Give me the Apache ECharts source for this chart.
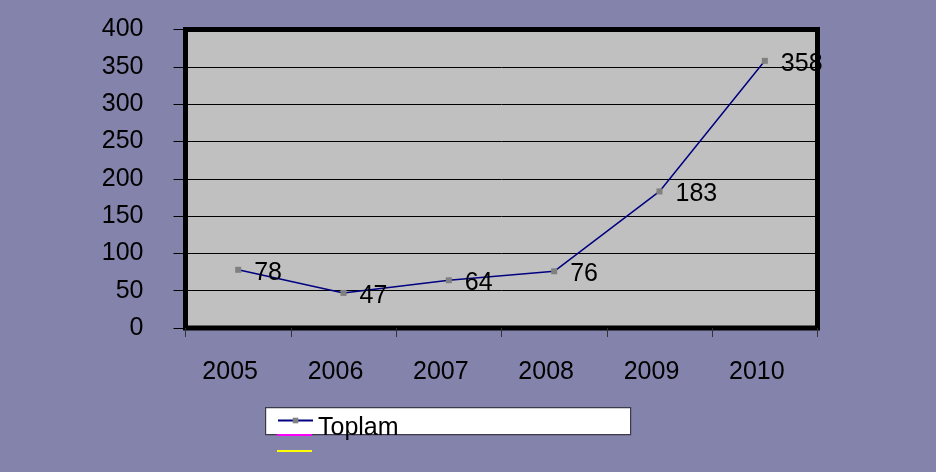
<!DOCTYPE html>
<html><head><meta charset="utf-8">
<script src="https://cdn.jsdelivr.net/npm/echarts@6/dist/echarts.min.js"></script>
<style>html,body{margin:0;padding:0;background:#8483ab;}#c{width:936px;height:472px;}</style>
</head><body><div id="c"></div>
<script>
const categories = ['2005','2006','2007','2008','2009','2010'];
const toplam = [78, 47, 64, 76, 183, 358];
const yTicks = {min: 0, max: 400, interval: 50};
const seriesNames = ['Toplam', ' ', '  '];

const chart = echarts.init(document.getElementById('c'));
const font = 'Liberation Sans, Arial, sans-serif';
chart.setOption({
  backgroundColor: '#8483ab',
  animation: false,
  textStyle: {fontFamily: font},
  grid: {left: 185.5, right: 118.5, top: 29.5, bottom: 144, show: true,
         backgroundColor: '#c0c0c0', borderColor: '#000', borderWidth: 5},
  graphic: [{type: 'rect', left: 265, top: 407, z: -1,
             shape: {width: 365, height: 27},
             style: {fill: '#fff', stroke: '#3a3a4a', lineWidth: 1.2}}],
  legend: [
    {data: [seriesNames[0]], left: 277, top: 416, itemWidth: 35, itemHeight: 7, padding: 0,
     formatter: '{t|{name}}',
     textStyle: {fontFamily: font, rich: {t: {fontSize: 25, color: '#000', fontFamily: font,
                 padding: [16, 0, 0, 0]}}}},
    {data: [{name: seriesNames[1], icon: 'rect'}, {name: seriesNames[2], icon: 'rect'}],
     orient: 'vertical', left: 277, top: 428,
     itemWidth: 35, itemHeight: 2, itemGap: 2, padding: 0,
     textStyle: {fontSize: 14, lineHeight: 14, color: '#000'}}
  ],
  xAxis: {type: 'category', data: categories, boundaryGap: true,
    axisLine: {show: false},
    axisTick: {show: true, length: 9, lineStyle: {color: '#333'}},
    axisLabel: {fontSize: 25, color: '#000', margin: 32, fontFamily: font, padding: [0, 16, 0, 0]}},
  yAxis: {type: 'value', min: yTicks.min, max: yTicks.max, interval: yTicks.interval,
    axisLine: {show: false},
    axisTick: {show: true, length: 12, lineStyle: {color: '#000'}},
    axisLabel: {fontSize: 25, color: '#000', margin: 42, fontFamily: font},
    splitLine: {lineStyle: {color: '#000', width: 1}}},
  series: [
    {name: seriesNames[0], type: 'line', data: toplam, color: '#000080',
     lineStyle: {color: '#000080', width: 1.5},
     symbol: 'rect', symbolSize: 6, itemStyle: {color: '#808080'},
     label: {show: true, position: 'right', distance: 13, offset: [0, 3],
             fontSize: 25, color: '#000', fontFamily: font}},
    {name: seriesNames[1], type: 'line', data: [], color: '#ff00ff', symbol: 'none',
     itemStyle: {color: '#ff00ff'},
     lineStyle: {color: '#ff00ff', width: 2}},
    {name: seriesNames[2], type: 'line', data: [], color: '#ffff00', symbol: 'none',
     itemStyle: {color: '#ffff00'},
     lineStyle: {color: '#ffff00', width: 2}}
  ]
});
</script></body></html>
